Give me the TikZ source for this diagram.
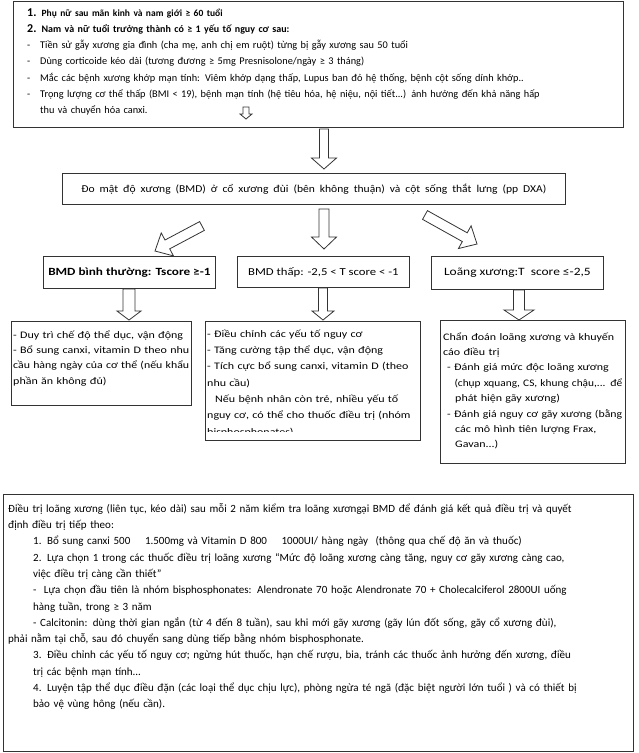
\documentclass[tikz,border=0pt]{standalone}
\usepackage{fontspec}
\usepackage{graphicx}
\setmainfont{Carlito}
\newfontfamily\widefont[FakeStretch=1.2]{Carlito}
\newfontfamily\midfont[FakeStretch=1.1]{Carlito}
\usetikzlibrary{calc}
\setlength\parindent{0pt}
\tikzset{
  box/.style={draw=black!80, line width=0.8pt, inner sep=0pt, anchor=north west},
  txt/.style={inner sep=0pt, anchor=north west, align=left},
  barrow/.style={draw=black!80, line width=0.8pt, fill=white, line join=miter},
}
% #1 tail, #2 tip, #3 shaft half width, #4 head half width, #5 head length
\newcommand\blockarrow[5]{%
  \path ($(#2)!#5!(#1)$) coordinate (hb);
  \draw[barrow] ($(#1)!#3!90:(#2)$) -- ($(hb)!#3!90:(#2)$) -- ($(hb)!#4!90:(#2)$) -- (#2)
     -- ($(hb)!#4!-90:(#2)$) -- ($(hb)!#3!-90:(#2)$) -- ($(#1)!#3!-90:(#2)$) -- cycle;}
% justified line: stretch spaces, or squeeze horizontally if too long
\newcommand\js[2]{\sbox0{#2}\ifdim\wd0>#1\relax\resizebox{#1}{\height}{\usebox0}\else\makebox[#1][s]{#2}\fi}
\newcommand\dash{\makebox[13pt][l]{-}}
\begin{document}
\begin{tikzpicture}[x=1pt,y=-1pt]
\useasboundingbox[fill=white] (0,0) rectangle (638,753);

% ---------- top box ----------
\node[box, minimum width=610pt, minimum height=126pt] (top) at (13,1) {};
\node[txt, text width=594pt, font=\fontsize{10.3}{16.2}\selectfont] (toptext) at (27,4.7) {%
\mbox{\strut\bfseries{\fontsize{12}{16.2}\selectfont 1.} {\fontsize{9.5}{16.2}\selectfont Phụ nữ sau mãn kinh và nam giới ≥ 60 tuổi}}\\
\mbox{\bfseries{\fontsize{12}{16.2}\selectfont 2.} {\fontsize{10}{16.2}\selectfont Nam và nữ tuổi trưởng thành có ≥ 1 yếu tố nguy cơ sau:}}\\
\mbox{\dash Tiền sử gẫy xương gia đình (cha mẹ, anh chị em ruột) từng bị gẫy xương sau 50 tuổi}\\
\mbox{\dash Dùng corticoide kéo dài (tương đương ≥ 5mg Presnisolone/ngày ≥ 3 tháng)}\\
\mbox{\dash Mắc các bệnh xương khớp mạn tính: Viêm khớp dạng thấp, Lupus ban đỏ hệ thống, bệnh cột sống dính khớp..}\\
\js{594pt}{\dash Trọng lượng cơ thể thấp (BMI < 19), bệnh mạn tính (hệ tiêu hóa, hệ niệu, nội tiết...) ảnh hưởng đến khả năng hấp}\\
\mbox{\hspace*{13pt}thu và chuyển hóa canxi.}};

% ---------- BMD box ----------
\node[box, minimum width=503pt, minimum height=31pt, font=\midfont\fontsize{10.5}{13}\selectfont] (bmd) at (62,173)
  {\js{465pt}{Đo mật độ xương (BMD) ở cổ xương đùi (bên không thuận) và cột sống thắt lưng (pp DXA)}};

% ---------- row boxes ----------
\node[box, minimum width=172pt, minimum height=32pt, font=\widefont\fontsize{11}{13}\selectfont\bfseries] (rowL) at (43,256)
  {BMD bình thường: Tscore ≥-1};
\node[box, minimum width=172pt, minimum height=31pt, font=\widefont\fontsize{10.6}{13}\selectfont] (rowM) at (237,256)
  {BMD thấp: -2,5 < T score < -1};
\node[box, minimum width=172pt, minimum height=33pt, font=\widefont\fontsize{11.2}{13}\selectfont] (rowR) at (431,256)
  {Loãng xương:T\ \ score ≤-2,5};

% ---------- lower boxes ----------
\node[box, minimum width=180pt, minimum height=84pt] (lowL) at (11,321) {};
\node[txt, text width=176pt, font=\widefont\fontsize{10}{15.3}\selectfont] (lowLtext) at (13,327.3) {%
\mbox{\strut- Duy trì chế độ thể dục, vận động}\\
\js{176pt}{- Bổ sung canxi, vitamin D theo nhu}\\
\js{176pt}{cầu hàng ngày của cơ thể (nếu khẩu}\\
\mbox{phần ăn không đủ)}};

\node[box, minimum width=215pt, minimum height=119pt] (lowM) at (205,321) {};
\begin{scope}
\clip (205,321) rectangle (420,431);
\node[txt, text width=212pt, font=\widefont\fontsize{10}{16.3}\selectfont] (lowMtext) at (207,325.6) {%
\mbox{\strut- Điều chỉnh các yếu tố nguy cơ}\\
\mbox{- Tăng cường tập thể dục, vận động}\\
\js{212pt}{- Tích cực bổ sung canxi, vitamin D (theo}\\
\mbox{nhu cầu)}\\
\js{212pt}{\hspace*{8pt}Nếu bệnh nhân còn trẻ, nhiều yếu tố}\\
\js{212pt}{nguy cơ, có thể cho thuốc điều trị (nhóm}\\
\mbox{bisphosphonates)}};
\end{scope}

\node[box, minimum width=185pt, minimum height=143pt] (lowR) at (440,320) {};
\node[txt, text width=179pt, font=\widefont\fontsize{10}{15.4}\selectfont] (lowRtext) at (443,329.2) {%
\js{179pt}{\strut Chẩn đoán loãng xương và khuyến}\\
\mbox{cáo điều trị}\\
\js{179pt}{\hspace*{4pt}- Đánh giá mức độc loãng xương}\\
\js{179pt}{\hspace*{12pt}(chụp xquang, CS, khung chậu,... để}\\
\mbox{\hspace*{12pt}phát hiện gãy xương)}\\
\js{179pt}{\hspace*{4pt}- Đánh giá nguy cơ gãy xương (bằng}\\
\js{179pt}{\hspace*{12pt}các mô hình tiên lượng Frax,}\\
\mbox{\hspace*{12pt}Gavan...)}};

% ---------- bottom box ----------
\node[box, minimum width=630pt, minimum height=257pt] (bot) at (3,494) {};
\node[txt, text width=618pt, font=\fontsize{11}{16.3}\selectfont] (bottext) at (8,500.6) {%
\js{618pt}{\strut Điều trị loãng xương (liên tục, kéo dài) sau mỗi 2 năm kiểm tra loãng xươngại BMD để đánh giá kết quả điều trị và quyết}\\
\mbox{định điều trị tiếp theo:}\\
\mbox{\hspace*{25pt}1. Bổ sung canxi 500\ \ \ \ 1.500mg và Vitamin D 800\ \ \ \ 1000UI/ hàng ngày\ \ (thông qua chế độ ăn và thuốc)}\\
\mbox{\hspace*{25pt}2. Lựa chọn 1 trong các thuốc điều trị loãng xương “Mức độ loãng xương càng tăng, nguy cơ gãy xương càng cao,}\\
\mbox{\hspace*{25pt}việc điều trị càng cần thiết”}\\
\js{618pt}{\hspace*{25pt}-\ \ Lựa chọn đầu tiên là nhóm bisphosphonates: Alendronate 70 hoặc Alendronate 70 + Cholecalciferol 2800UI uống}\\
\mbox{\hspace*{25pt}hàng tuần, trong ≥ 3 năm}\\
\mbox{\hspace*{25pt}- Calcitonin: dùng thời gian ngắn (từ 4 đến 8 tuần), sau khi mới gãy xương (gãy lún đốt sống, gãy cổ xương đùi),}\\
\mbox{phải nằm tại chỗ, sau đó chuyển sang dùng tiếp bằng nhóm bisphosphonate.}\\
\js{618pt}{\hspace*{25pt}3. Điều chỉnh các yếu tố nguy cơ; ngừng hút thuốc, hạn chế rượu, bia, tránh các thuốc ảnh hưởng đến xương, điều}\\
\mbox{\hspace*{25pt}trị các bệnh mạn tính...}\\
\js{618pt}{\hspace*{25pt}4. Luyện tập thể dục điều đặn (các loại thể dục chịu lực), phòng ngừa té ngã (đặc biệt người lớn tuổi ) và có thiết bị}\\
\mbox{\hspace*{25pt}bảo vệ vùng hông (nếu cần).}};

% ---------- block arrows ----------
\coordinate (a0t) at (246,107); \coordinate (a0h) at (246,119);
\coordinate (a1t) at (324,129); \coordinate (a1h) at (324,169);
\coordinate (a2t) at (202,226); \coordinate (a2h) at (155,251);
\coordinate (a3t) at (324,209); \coordinate (a3h) at (324,249);
\coordinate (a4t) at (425,215); \coordinate (a4h) at (477,244);
\coordinate (b1t) at (129,289); \coordinate (b1h) at (129,320);
\coordinate (b2t) at (323,288); \coordinate (b2h) at (323,320);
\coordinate (b3t) at (519,290); \coordinate (b3h) at (519,320);
\blockarrow{a0t}{a0h}{3pt}{6pt}{5pt}
\blockarrow{a1t}{a1h}{4.5pt}{12.5pt}{11pt}
\blockarrow{a2t}{a2h}{5pt}{13pt}{14pt}
\blockarrow{a3t}{a3h}{5pt}{12.5pt}{12pt}
\blockarrow{a4t}{a4h}{5pt}{13pt}{14pt}
\blockarrow{b1t}{b1h}{6pt}{12pt}{9pt}
\blockarrow{b2t}{b2h}{4.5pt}{11pt}{9pt}
\blockarrow{b3t}{b3h}{5.5pt}{15pt}{10pt}
\end{tikzpicture}
\end{document}
